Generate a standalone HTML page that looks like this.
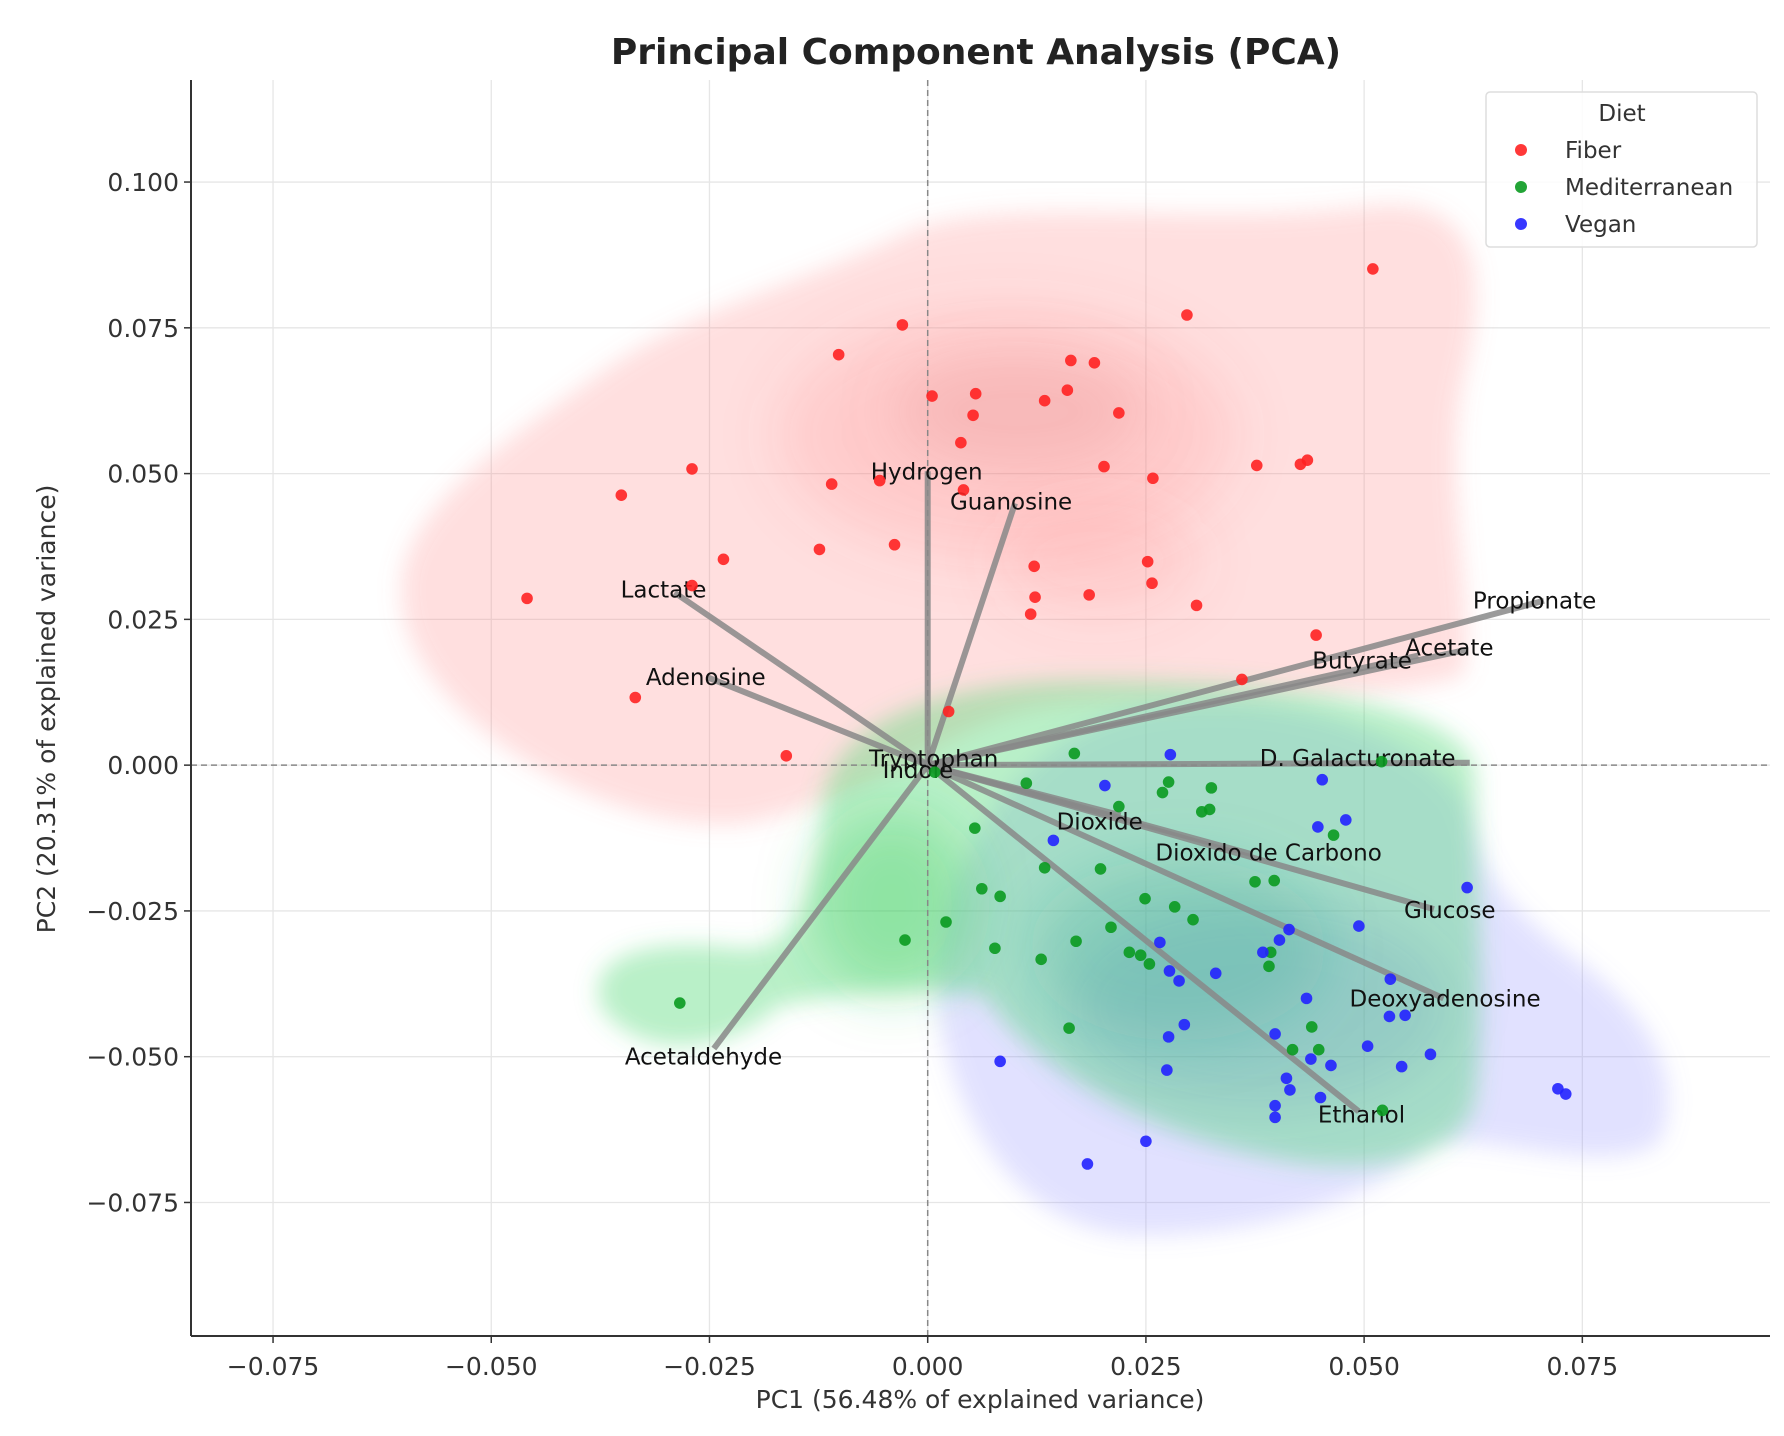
<!DOCTYPE html>
<html><head><meta charset="utf-8"><style>html,body{margin:0;padding:0;background:#fff}svg{display:block}text{font-family:"DejaVu Sans","Liberation Sans",sans-serif}</style></head>
<body>
<svg id="chart" width="1784" height="1436" viewBox="0 0 1784 1436" xmlns="http://www.w3.org/2000/svg">
<defs>
<filter id="b1" x="-20%" y="-20%" width="140%" height="140%"><feGaussianBlur stdDeviation="10"/></filter>
<filter id="b2" x="-50%" y="-50%" width="200%" height="200%"><feGaussianBlur stdDeviation="25"/></filter>
</defs>
<text x="976" y="64" text-anchor="middle" font-size="36" font-weight="bold" fill="#222">Principal Component Analysis (PCA)</text>
<g id="grid"></g>
<g transform="scale(1.1436)">
 <g>
  <path filter="url(#b1)" fill="rgba(255,120,120,0.24)" d="M352,530 C340,460 420,400 520,330 C600,270 700,250 800,200 C900,170 1050,200 1200,180 C1300,170 1300,250 1280,330 C1260,420 1290,520 1280,590 C1200,620 1000,600 900,620 C820,640 760,700 650,720 C520,730 360,620 352,530 Z"/>
  <ellipse filter="url(#b2)" cx="880" cy="380" rx="200" ry="110" fill="rgba(255,90,90,0.15)"/>
  <ellipse filter="url(#b2)" cx="890" cy="360" rx="110" ry="50" fill="rgba(220,110,110,0.2)"/>
  <ellipse filter="url(#b2)" cx="960" cy="490" rx="90" ry="50" fill="rgba(255,90,90,0.12)"/>
 </g>
 <g>
  <path filter="url(#b1)" fill="rgba(130,130,255,0.24)" d="M820,880 C810,780 880,640 1000,620 C1120,600 1240,640 1280,700 C1300,760 1300,780 1380,840 C1460,900 1470,960 1450,1000 C1400,1030 1300,990 1250,1000 C1200,1050 1100,1080 1000,1080 C880,1080 830,960 820,880 Z"/>
  <ellipse filter="url(#b2)" cx="1100" cy="880" rx="170" ry="90" fill="rgba(80,80,230,0.2)"/>
 </g>
 <g>
  <path filter="url(#b1)" fill="rgba(70,215,110,0.38)" d="M720,700 C730,620 850,595 950,595 C1100,595 1290,610 1290,680 C1290,760 1300,870 1290,960 C1280,1020 1180,1030 1100,1010 C1000,990 900,930 860,870 C800,860 720,870 680,880 C640,920 560,930 525,880 C510,830 580,820 650,830 C700,830 715,780 720,700 Z"/>
  <ellipse filter="url(#b2)" cx="780" cy="790" rx="70" ry="80" fill="rgba(40,200,80,0.3)"/>
  <ellipse filter="url(#b2)" cx="1030" cy="830" rx="130" ry="80" fill="rgba(40,160,140,0.22)"/>
 </g>
</g>
<g id="refs"></g>
<g id="loadings"></g>
<g id="points"></g>
<g id="axes"></g>
<text x="980" y="1408" text-anchor="middle" font-size="25" fill="#333">PC1 (56.48% of explained variance)</text>
<text transform="translate(55,709) rotate(-90)" text-anchor="middle" font-size="25" fill="#333">PC2 (20.31% of explained variance)</text>
<g>
 <rect x="1486" y="92" width="271" height="155" rx="4" fill="#fff" fill-opacity="0.85" stroke="#ddd" stroke-width="1.5"/>
 <text x="1622" y="121" text-anchor="middle" font-size="23" fill="#333">Diet</text>
 <g id="legend-items"></g>
</g>
<script>
const X_MIN=-0.0844, X_MAX=0.0965, Y_MIN=-0.0979, Y_MAX=0.1175;
const L=191, R=1770, T=80, B=1336;
const xTicks=[-0.075,-0.05,-0.025,0,0.025,0.05,0.075];
const xTickLabels=["−0.075","−0.050","−0.025","0.000","0.025","0.050","0.075"];
const yTicks=[0.1,0.075,0.05,0.025,0,-0.025,-0.05,-0.075];
const yTickLabels=["0.100","0.075","0.050","0.025","0.000","−0.025","−0.050","−0.075"];
const dietNames=["Fiber","Mediterranean","Vegan"];
const fiberX=[0.0510,0.0297,-0.0029,-0.0102,0.0164,0.0191,0.0005,0.0055,0.0134,0.0160,0.0219,0.0052,0.0038,-0.0270,-0.0351,-0.0110,-0.0055,0.0041,0.0202,0.0258,0.0377,0.0427,0.0435,-0.0234,-0.0124,-0.0038,0.0122,0.0252,0.0257,0.0185,0.0123,0.0118,0.0308,-0.0459,-0.0270,0.0445,0.0360,-0.0335,0.0024,-0.0162];
const fiberY=[0.0851,0.0772,0.0755,0.0704,0.0694,0.0690,0.0633,0.0637,0.0625,0.0643,0.0604,0.0600,0.0553,0.0508,0.0463,0.0482,0.0488,0.0472,0.0512,0.0492,0.0514,0.0516,0.0523,0.0353,0.0370,0.0378,0.0341,0.0349,0.0312,0.0292,0.0288,0.0259,0.0274,0.0286,0.0308,0.0223,0.0147,0.0116,0.0092,0.0016];
const medX=[0.0168,0.0520,0.0276,0.0269,0.0325,0.0113,0.0219,0.0314,0.0323,0.0054,0.0465,0.0134,0.0198,0.0062,0.0083,0.0375,0.0397,0.0249,0.0283,0.0304,0.0021,0.0210,-0.0026,0.0170,0.0077,0.0393,0.0231,0.0244,0.0130,0.0254,0.0391,-0.0284,0.0162,0.0440,0.0418,0.0448,0.0521,0.0008];
const medY=[0.0020,0.0006,-0.0029,-0.0047,-0.0039,-0.0031,-0.0071,-0.0080,-0.0076,-0.0108,-0.0120,-0.0176,-0.0178,-0.0212,-0.0225,-0.0200,-0.0198,-0.0229,-0.0243,-0.0265,-0.0269,-0.0278,-0.0300,-0.0302,-0.0314,-0.0321,-0.0321,-0.0326,-0.0333,-0.0341,-0.0345,-0.0408,-0.0451,-0.0449,-0.0488,-0.0488,-0.0592,-0.0012];
const veganX=[0.0278,0.0452,0.0203,0.0479,0.0447,0.0144,0.0618,0.0494,0.0414,0.0403,0.0384,0.0266,0.0277,0.0288,0.0330,0.0530,0.0434,0.0529,0.0547,0.0294,0.0276,0.0398,0.0504,0.0576,0.0083,0.0439,0.0462,0.0543,0.0274,0.0411,0.0415,0.0450,0.0722,0.0731,0.0398,0.0398,0.0250,0.0183];
const veganY=[0.0018,-0.0025,-0.0035,-0.0094,-0.0106,-0.0129,-0.0210,-0.0276,-0.0282,-0.0300,-0.0321,-0.0304,-0.0353,-0.0370,-0.0357,-0.0367,-0.0400,-0.0431,-0.0429,-0.0445,-0.0466,-0.0461,-0.0482,-0.0496,-0.0508,-0.0504,-0.0515,-0.0517,-0.0523,-0.0537,-0.0557,-0.0570,-0.0555,-0.0564,-0.0584,-0.0604,-0.0645,-0.0684];
const loadingNames=["Hydrogen","Guanosine","Lactate","Adenosine","Propionate","Acetate","Butyrate","Tryptophan","Indole","D. Galacturonate","Dioxide","Dioxido de Carbono","Glucose","Deoxyadenosine","Ethanol","Acetaldehyde"];
const loadingX=[0.0000,0.0100,-0.0290,-0.0253,0.0706,0.0618,0.0562,0.0005,0.0001,0.0621,0.0221,0.0372,0.0580,0.0591,0.0494,-0.0245];
const loadingY=[0.0504,0.0449,0.0296,0.0151,0.0282,0.0198,0.0188,0.0008,-0.0012,0.0004,-0.0086,-0.0153,-0.0247,-0.0400,-0.0594,-0.0486];
// label offsets in pixels (style, not data)
const labelDX=[-57,-65,-54,-61,-71,-62,-106,-63,-46,-210,-64,-97,-30,-94,-41,-89];
const labelDY=[8,6,5,8,8,6,13,6,6,3,14,6,9,8,11,16];

const NS="http://www.w3.org/2000/svg";
const sx=v=>L+(v-X_MIN)/(X_MAX-X_MIN)*(R-L);
const sy=v=>B-(v-Y_MIN)/(Y_MAX-Y_MIN)*(B-T);
function mk(tag,attrs,parent){const e=document.createElementNS(NS,tag);for(const k in attrs)e.setAttribute(k,attrs[k]);parent.appendChild(e);return e;}
const grid=document.getElementById('grid'),axes=document.getElementById('axes'),refs=document.getElementById('refs');
xTicks.forEach((v,i)=>{
  const g=mk('line',{x1:sx(v),x2:sx(v),y1:T,y2:B,stroke:'#e6e6e6','stroke-width':1.3},grid);
  
  
  const t=mk('line',{x1:sx(v),x2:sx(v),y1:B,y2:B+7,stroke:'#333','stroke-width':1.5},axes);
  
  
  const tx=mk('text',{x:sx(v),y:B+39,'text-anchor':'middle','font-size':25,fill:'#333'},axes);
  tx.textContent=xTickLabels[i];
  
  
});
yTicks.forEach((v,i)=>{
  const g=mk('line',{x1:L,x2:R,y1:sy(v),y2:sy(v),stroke:'#e6e6e6','stroke-width':1.3},grid);
  
  
  const t=mk('line',{x1:L-7,x2:L,y1:sy(v),y2:sy(v),stroke:'#333','stroke-width':1.5},axes);
  
  
  const tx=mk('text',{x:L-12,y:sy(v)+9,'text-anchor':'end','font-size':25,fill:'#333'},axes);
  tx.textContent=yTickLabels[i];
  
  
});
const ax1=mk('line',{x1:L,x2:L,y1:T,y2:B,stroke:'#333','stroke-width':2},axes);


const ax2=mk('line',{x1:L,x2:R,y1:B,y2:B,stroke:'#333','stroke-width':2},axes);


const z1=mk('line',{x1:sx(0),x2:sx(0),y1:T,y2:B,stroke:'#888','stroke-width':1.5,'stroke-dasharray':'6,4'},refs);


const z2=mk('line',{x1:L,x2:R,y1:sy(0),y2:sy(0),stroke:'#888','stroke-width':1.5,'stroke-dasharray':'6,4'},refs);



const pts=document.getElementById('points');
const series=[[fiberX,fiberY,'#f22'],[medX,medY,'#0a9a20'],[veganX,veganY,'#22f']];
series.forEach((s,si)=>{
  s[0].forEach((x,i)=>{
    const c=mk('circle',{cx:sx(x),cy:sy(s[1][i]),r:5.8,fill:s[2],'fill-opacity':0.9},pts);
    
    
  });
});
const ld=document.getElementById('loadings');
loadingNames.forEach((n,i)=>{
  const l=mk('line',{x1:sx(0),y1:sy(0),x2:sx(loadingX[i]),y2:sy(loadingY[i]),stroke:'#888','stroke-width':6,'stroke-opacity':0.85},ld);
  
  
});
loadingNames.forEach((n,i)=>{
  const t=mk('text',{x:sx(loadingX[i])+labelDX[i],y:sy(loadingY[i])+labelDY[i],'font-size':23,fill:'#111'},ld);
  t.textContent=n;
  
  
});
const li=document.getElementById('legend-items');
const legColors=['#f22','#0a9a20','#22f'];
dietNames.forEach((n,i)=>{
  const y=150+i*37;
  const c=mk('circle',{cx:1521,cy:y,r:6,fill:legColors[i],'fill-opacity':0.9},li);
  
  
  const t=mk('text',{x:1565,y:y+8,'font-size':23,fill:'#333'},li);
  t.textContent=n;
  
  
});
</script>
</svg>
</body></html>
